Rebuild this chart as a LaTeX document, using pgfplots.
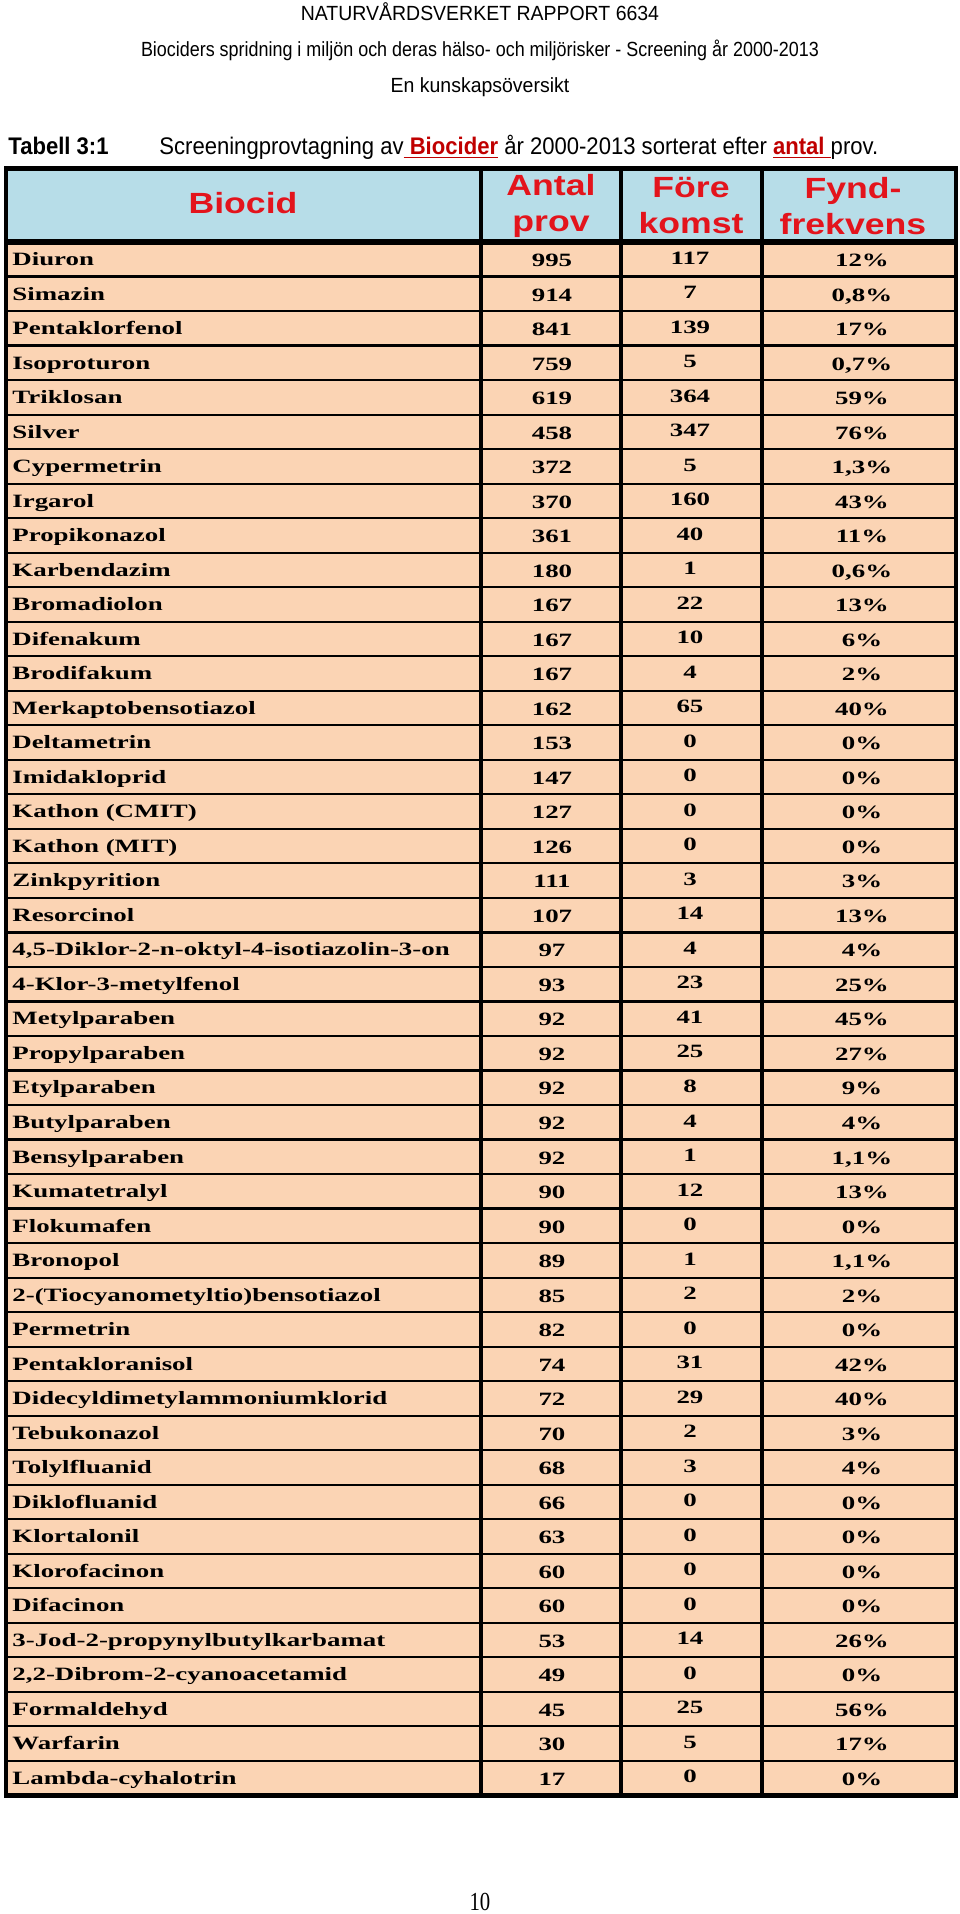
\documentclass[border=0pt]{standalone}
\usepackage{fontspec}
\setmainfont{Liberation Sans}
\usepackage{pgfplots}
\pgfplotsset{compat=1.18}
\usepackage{pgfplotstable}

\newfontfamily\titlefont[FakeStretch=0.95]{Liberation Sans}
\newfontfamily\subtitlefont[FakeStretch=0.875]{Liberation Sans}
\newfontfamily\capfont[FakeStretch=0.92]{Liberation Sans}
\newfontfamily\headfont[FakeStretch=1.22]{Liberation Sans}
\newfontfamily\bodyfont[FakeStretch=1.43]{Liberation Serif}
\newfontfamily\pagefont[FakeStretch=0.8]{Liberation Serif}

\definecolor{peach}{HTML}{FBD4B4}
\definecolor{hdblue}{HTML}{B7DDE8}
\definecolor{hdred}{HTML}{E3141C}
\definecolor{capred}{HTML}{C00000}

% Biocid; antal prov; förekomst; fyndfrekvens (%)
\pgfplotstableread[col sep=semicolon]{
name;antal;fore;frek
Diuron;995;117;12
Simazin;914;7;0,8
Pentaklorfenol;841;139;17
Isoproturon;759;5;0,7
Triklosan;619;364;59
Silver;458;347;76
Cypermetrin;372;5;1,3
Irgarol;370;160;43
Propikonazol;361;40;11
Karbendazim;180;1;0,6
Bromadiolon;167;22;13
Difenakum;167;10;6
Brodifakum;167;4;2
Merkaptobensotiazol;162;65;40
Deltametrin;153;0;0
Imidakloprid;147;0;0
Kathon (CMIT);127;0;0
Kathon (MIT);126;0;0
Zinkpyrition;111;3;3
Resorcinol;107;14;13
4,5-Diklor-2-n-oktyl-4-isotiazolin-3-on;97;4;4
4-Klor-3-metylfenol;93;23;25
Metylparaben;92;41;45
Propylparaben;92;25;27
Etylparaben;92;8;9
Butylparaben;92;4;4
Bensylparaben;92;1;1,1
Kumatetralyl;90;12;13
Flokumafen;90;0;0
Bronopol;89;1;1,1
2-(Tiocyanometyltio)bensotiazol;85;2;2
Permetrin;82;0;0
Pentakloranisol;74;31;42
Didecyldimetylammoniumklorid;72;29;40
Tebukonazol;70;2;3
Tolylfluanid;68;3;4
Diklofluanid;66;0;0
Klortalonil;63;0;0
Klorofacinon;60;0;0
Difacinon;60;0;0
3-Jod-2-propynylbutylkarbamat;53;14;26
2,2-Dibrom-2-cyanoacetamid;49;0;0
Formaldehyd;45;25;56
Warfarin;30;5;17
Lambda-cyhalotrin;17;0;0
}\biocid

\newcommand\cellfont{\bodyfont\bfseries\fontsize{9.4bp}{11bp}\selectfont}
\newcommand\hdfont{\headfont\bfseries\fontsize{14.6bp}{18bp}\selectfont}

\begin{document}
\begin{tikzpicture}
\begin{axis}[
  scale only axis, width=480bp, height=957bp,
  xmin=-6, xmax=954, ymin=0, ymax=1914, y dir=reverse,
  hide axis, clip=false,
  cell/.style={only marks, mark=none, nodes near coords, point meta=explicit symbolic},
]
% page and cell backgrounds
\addplot[fill=white, draw=none] coordinates {(-6,0) (954,0) (954,1914) (-6,1914)};
\addplot[fill=peach, draw=none] coordinates {(0,242) (950,242) (950,1795.5) (0,1795.5)};
\addplot[fill=hdblue, draw=none] coordinates {(0,168.5) (950,168.5) (950,242) (0,242)};

% row rules, one per row
\addplot[xcomb, black, line width=1.1bp] table[x expr=950, y expr=242+\coordindex*34.52] {\biocid};

% column rules
\addplot[black, line width=1.6bp] coordinates {(475,168.5) (475,1795.5)};
\addplot[black, line width=1.6bp] coordinates {(615,168.5) (615,1795.5)};
\addplot[black, line width=1.6bp] coordinates {(756,168.5) (756,1795.5)};
\addplot[black, line width=2.6bp] coordinates {(0,242) (950,242)};
\addplot[black, line width=2.4bp, line cap=rect] coordinates {(0,168.5) (950,168.5) (950,1795.5) (0,1795.5) (0,168.5)};

% cell texts
\addplot[cell, nodes near coords style={anchor=base west, inner sep=0pt, font=\cellfont}]
  table[x expr=6, y expr=265.5+\coordindex*34.52, meta=name] {\biocid};
\addplot[cell, nodes near coords style={anchor=base, inner sep=0pt, font=\cellfont}]
  table[x expr=546, y expr=266.5+\coordindex*34.52, meta=antal] {\biocid};
\addplot[cell, nodes near coords style={anchor=base, inner sep=0pt, font=\cellfont}]
  table[x expr=684, y expr=264+\coordindex*34.52, meta=fore] {\biocid};
\addplot[cell, nodes near coords={\pgfplotspointmeta\%}, nodes near coords style={anchor=base, inner sep=0pt, font=\cellfont}]
  table[x expr=856, y expr=266.5+\coordindex*34.52, meta=frek] {\biocid};

% header
\node[text=hdred, inner sep=0pt, font=\hdfont] at (axis cs:237,203) {Biocid};
\node[text=hdred, align=center, inner sep=0pt, font=\hdfont] at (axis cs:545,206) {Antal\\prov};
\node[text=hdred, align=center, inner sep=0pt, font=\hdfont] at (axis cs:685,206) {Före\\komst};
\node[text=hdred, align=center, inner sep=0pt, font=\hdfont] at (axis cs:847,206) {Fynd-\\frekvens};

% page head, caption, page number
\node[inner sep=0pt, font=\titlefont\fontsize{10.25bp}{12bp}\selectfont] at (axis cs:474,12) {NATURVÅRDSVERKET RAPPORT 6634};
\node[inner sep=0pt, font=\subtitlefont\fontsize{10.25bp}{12bp}\selectfont] at (axis cs:474,50) {Biociders spridning i miljön och deras hälso- och miljörisker - Screening år 2000-2013};
\node[inner sep=0pt, font=\titlefont\fontsize{10.25bp}{12bp}\selectfont] at (axis cs:474,87) {En kunskapsöversikt};
\node[anchor=base west, inner sep=0pt, font=\capfont\bfseries\fontsize{12bp}{14bp}\selectfont] at (axis cs:2,154) {Tabell 3:1};
\node[anchor=base west, inner sep=0pt, font=\capfont\fontsize{12bp}{14bp}\selectfont] at (axis cs:153,154)
  {Screeningprovtagning av\textcolor{capred}{\bfseries\underline{\ Biocider}} år 2000-2013 sorterat efter \textcolor{capred}{\bfseries\underline{antal\ }}prov.};
\node[inner sep=0pt, font=\pagefont\fontsize{13bp}{15bp}\selectfont] at (axis cs:474,1902) {10};
\end{axis}
\end{tikzpicture}
\end{document}
